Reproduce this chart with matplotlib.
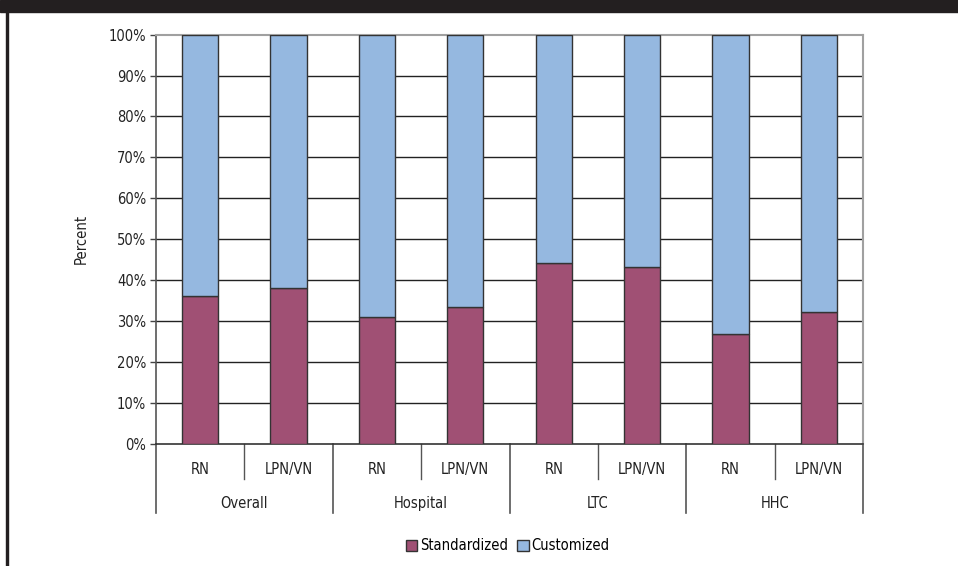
import matplotlib
matplotlib.use("Agg")
import matplotlib.pyplot as plt
from matplotlib.patches import Rectangle
import numpy as np

plt.rcParams['font.family'] = ['DejaVu Sans']
plt.rcParams['font.stretch'] = 'condensed'

groups = ['Overall', 'Hospital', 'LTC', 'HHC']
roles = ['RN', 'LPN/VN', 'RN', 'LPN/VN', 'RN', 'LPN/VN', 'RN', 'LPN/VN']
standardized = [36.2, 38.0, 31.0, 33.5, 44.3, 43.3, 26.7, 32.2]
customized = [100 - v for v in standardized]
y_ticks = [0, 10, 20, 30, 40, 50, 60, 70, 80, 90, 100]

maroon = '#A05074'
blue = '#95B8E0'
txt = '#222222'
fs = 10.5

fig = plt.figure(figsize=(9.58, 5.66), dpi=100)
ax = fig.add_axes([156 / 958, 1 - 443.7 / 566, (863 - 156) / 958, (443.7 - 34.7) / 566])

x = np.arange(len(roles))
ax.bar(x, standardized, width=0.41, color=maroon, edgecolor='#333333', linewidth=1, zorder=3,
       label='Standardized')
ax.bar(x, customized, width=0.41, bottom=standardized, color=blue, edgecolor='#333333',
       linewidth=1, zorder=3, label='Customized')

ax.set_xlim(-0.5, len(roles) - 0.5)
ax.set_ylim(0, 100)
for t in y_ticks[1:-1]:
    ax.axhline(t, color='#222222', lw=1, zorder=1)
ax.set_yticks(y_ticks)
ax.set_yticklabels([f'{t}%' for t in y_ticks], fontsize=fs, color=txt)
ax.tick_params(axis='y', length=4, width=1, color='#444444', pad=3)
ax.set_xticks([])
ax.set_ylabel('Percent', fontsize=fs, color=txt, labelpad=14)

for s in ['top', 'right']:
    ax.spines[s].set_color('#a0a0a0')
    ax.spines[s].set_linewidth(1.5)
ax.spines['left'].set_color('#555555')
ax.spines['bottom'].set_color('#333333')
ax.spines['left'].set_linewidth(1.2)
ax.spines['bottom'].set_linewidth(1.2)

# two-level category axis
trans = ax.get_xaxis_transform()
inner_y = -35 / 409
outer_y = -69 / 409
for i, r in enumerate(roles):
    ax.text(i, -26 / 409, r, transform=trans, ha='center', va='center', fontsize=fs, color=txt)
for g in range(len(groups)):
    ax.plot([2 * g + 0.5, 2 * g + 0.5], [0, inner_y], transform=trans, color='#555555',
            lw=1, clip_on=False)
    ax.text(2 * g + 0.5, -60 / 409, groups[g], transform=trans, ha='center', va='center',
            fontsize=fs, color=txt)
for b in np.arange(-0.5, len(roles), 2):
    ax.plot([b, b], [0, outer_y], transform=trans, color='#555555', lw=1.2, clip_on=False)

fig.legend(loc='center', bbox_to_anchor=(0.53, 1 - 546 / 566), ncol=2, frameon=False,
           fontsize=fs, handlelength=0.8, handleheight=0.8, handletextpad=0.2,
           columnspacing=0.6)

# page decoration: dark header band and left rule
fig.patches.append(Rectangle((0, 1 - 12 / 566), 1, 12 / 566, transform=fig.transFigure,
                             color='#231f20', zorder=0))
fig.patches.append(Rectangle((6 / 958, 0), 2 / 958, 1, transform=fig.transFigure,
                             color='#231f20', zorder=0))

fig.savefig('out.png', dpi=100)
